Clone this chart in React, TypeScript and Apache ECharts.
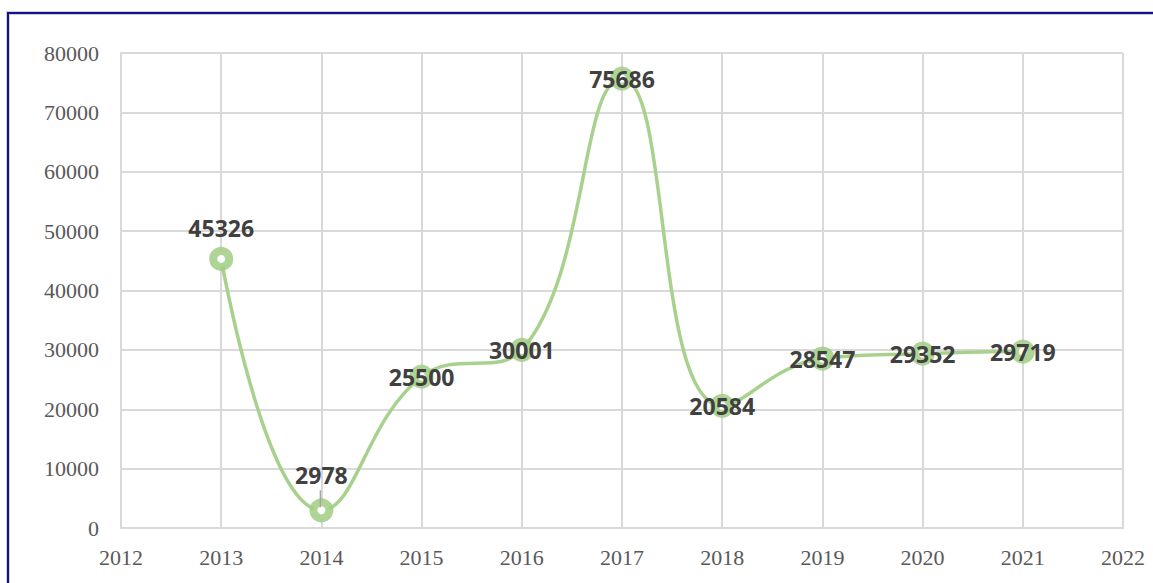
import React, { useEffect, useRef } from "react";
import * as echarts from "echarts";

const years = [2013, 2014, 2015, 2016, 2017, 2018, 2019, 2020, 2021];
const values = [45326, 2978, 25500, 30001, 75686, 20584, 28547, 29352, 29719];
const xTicks = { min: 2012, max: 2022, interval: 1 };
const yTicks = { min: 0, max: 80000, interval: 10000 };

export default function App() {
  const ref = useRef<HTMLDivElement>(null);
  useEffect(() => {
    document.body.style.margin = "0";
    const chart = echarts.init(ref.current!, null, { renderer: "svg" });
    const green = "#a9d18e";
    const data = years.map((y, i) => {
      const item: any = { value: [y, values[i]] };
      if (i === 0) item.label = { position: "top", distance: 7 };
      if (i === 1) item.label = { position: "top", distance: 12 };
      return item;
    });
    const border = [
      {
        type: "rect",
        shape: { x: 8, y: 13, width: 1200, height: 700 },
        style: { fill: "none", stroke: "#cfcfcf", lineWidth: 4 },
        silent: true,
      },
      {
        type: "rect",
        shape: { x: 8, y: 13, width: 1200, height: 700 },
        style: { fill: "none", stroke: "#12128c", lineWidth: 2 },
        silent: true,
      },
    ];
    chart.setOption({
      animation: false,
      backgroundColor: "#ffffff",
      graphic: border,
      grid: { left: 121, right: 30, top: 53, bottom: 55, containLabel: false },
      xAxis: {
        type: "value",
        min: xTicks.min,
        max: xTicks.max,
        interval: xTicks.interval,
        axisLine: { show: true, lineStyle: { color: "#d9d9d9", width: 2 } },
        axisTick: { show: false },
        splitLine: { show: true, lineStyle: { color: "#d9d9d9", width: 2 } },
        axisLabel: {
          formatter: (v: number) => String(v),
          color: "#595959",
          fontFamily: "Liberation Serif",
          fontSize: 22,
          margin: 18,
        },
      },
      yAxis: {
        type: "value",
        min: yTicks.min,
        max: yTicks.max,
        interval: yTicks.interval,
        axisLine: { show: true, lineStyle: { color: "#d9d9d9", width: 2 } },
        axisTick: { show: false },
        splitLine: { show: true, lineStyle: { color: "#d9d9d9", width: 2 } },
        axisLabel: {
          formatter: (v: number) => String(v),
          color: "#595959",
          fontFamily: "Liberation Serif",
          fontSize: 22,
          margin: 22,
        },
      },
      series: [
        {
          type: "line",
          data,
          smooth: 0.45,
          symbol: "circle",
          symbolSize: 16,
          lineStyle: { color: green, width: 3.5 },
          itemStyle: {
            color: "#ffffff",
            borderColor: "rgba(160,206,130,0.85)",
            borderWidth: 8,
          },
          label: {
            show: true,
            position: "inside",
            formatter: (p: any) => String(p.value[1]),
            color: "#404040",
            fontFamily: "Open Sans",
            fontWeight: "bold",
            fontSize: 23,
          },
          emphasis: { disabled: true },
        },
      ],
    });
    const p = chart.convertToPixel({ gridIndex: 0 }, [years[1], values[1]]) as number[];
    chart.setOption({
      graphic: [
        ...border,
        {
          type: "line",
          z: 100,
          shape: { x1: p[0] - 1, y1: p[1] - 20, x2: p[0] - 1, y2: p[1] - 3 },
          style: { stroke: "#a6a6a6", lineWidth: 1.5 },
          silent: true,
        },
      ],
    });
    return () => chart.dispose();
  }, []);
  return <div ref={ref} style={{ width: 1153, height: 583 }} />;
}
